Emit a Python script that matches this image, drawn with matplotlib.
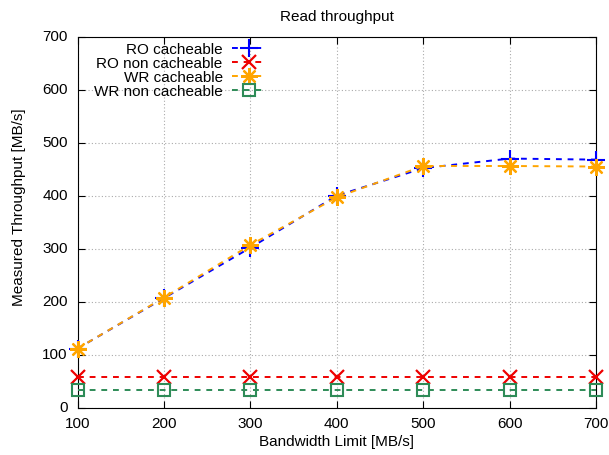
import matplotlib
matplotlib.use("Agg")
import matplotlib.pyplot as plt
from matplotlib.transforms import ScaledTranslation

plt.rcParams['font.family'] = ['Liberation Sans', 'DejaVu Sans']

bandwidth = [100, 200, 300, 400, 500, 600, 700]
ro_cache = [112, 207, 302, 400, 452, 470, 468]
ro_noncache = [58, 58, 58, 58, 58, 58, 58]
wr_cache = [112, 208, 307, 397, 456, 456, 455]
wr_noncache = [34, 34, 34, 34, 34, 34, 34]

W, H = 609, 456
fig = plt.figure(figsize=(W/100, H/100), dpi=100)
L, R, T, B = 77.5, 596, 37.5, 409
ax = fig.add_axes([L/W, 1-B/H, (R-L)/W, (B-T)/H])

dash = (0, (3, 3))
ax.plot(bandwidth, ro_cache, color='#0000ff', linestyle=dash, lw=1.4,
        marker='+', ms=13, mew=1.5, label='RO cacheable', zorder=3, clip_on=False)
ax.plot(bandwidth, ro_noncache, color='#ee0000', linestyle=dash, lw=1.4,
        marker='x', ms=10.5, mew=1.6, label='RO non cacheable', zorder=3, clip_on=False)
ax.plot(bandwidth, wr_cache, color='#ffa500', linestyle=dash, lw=1.4,
        marker=(8, 2, 0), ms=12, mew=1.6, label='WR cacheable', zorder=3, clip_on=False)
ax.plot(bandwidth, wr_noncache, color='#2e8b57', linestyle=dash, lw=1.4,
        marker='s', ms=9, mew=1.5, mfc='none', label='WR non cacheable', zorder=3, clip_on=False)

ax.set_xlim(100, 700)
ax.set_ylim(0, 700)
ax.set_xticks(bandwidth)
ax.set_yticks(range(0, 701, 100))
ax.grid(True, color='#aaaaaa', linestyle=(0, (1, 2)), lw=0.8)
ax.tick_params(direction='in', top=True, right=True, labelsize=11, length=5)
ax.tick_params(axis='y', pad=7)
ax.tick_params(axis='x', pad=6)
for lab in ax.get_yticklabels():
    lab.set_transform(lab.get_transform() + ScaledTranslation(0, 2/100, fig.dpi_scale_trans))
ax.set_xlabel('Bandwidth Limit [MB/s]', fontsize=11, va='center')
ax.xaxis.set_label_coords(0.5, -(441.7 - B) / (B - T))
ax.set_ylabel('Measured Throughput [MB/s]', fontsize=11, va='center')
ax.yaxis.set_label_coords((19 - L) / (R - L), (B - 206.7) / (B - T))
ax.set_title('Read throughput', fontsize=11, pad=12)

leg = ax.legend(loc='upper right', bbox_to_anchor=(267/W, 1-43/H),
                bbox_transform=fig.transFigure, frameon=False,
                markerfirst=False, fontsize=11, handlelength=2.3,
                labelspacing=0.0, borderaxespad=0.0, borderpad=0.0,
                handletextpad=0.6)
for t in leg.get_texts():
    t.set_ha('right')
leg._legend_box.align = 'right'

fig.savefig('out.png', dpi=100)
